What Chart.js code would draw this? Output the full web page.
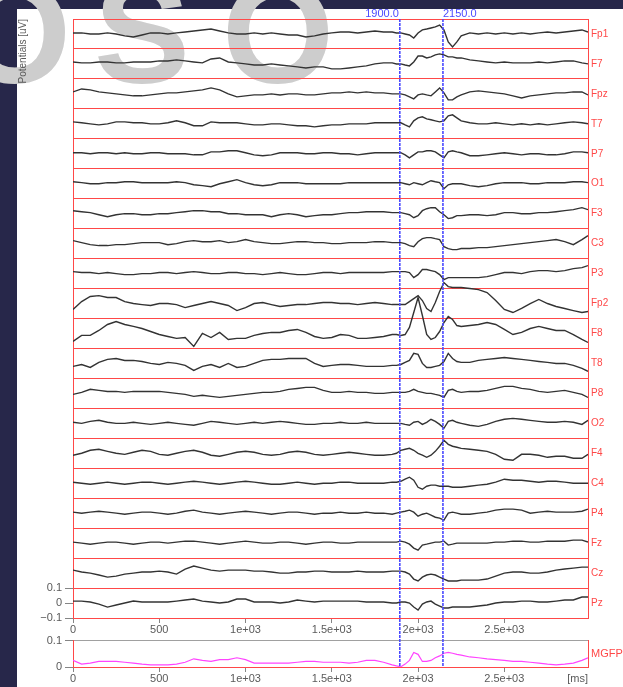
<!DOCTYPE html>
<html>
<head>
<meta charset="utf-8">
<title>EEG traces and MGFP</title>
<script src="https://cdn.jsdelivr.net/npm/chart.js@4.4.1/dist/chart.umd.min.js"></script>
<style>
  html, body { margin: 0; padding: 0; }
  body { width: 623px; height: 687px; position: relative; overflow: hidden; background: #27274a; }
  #sheet { position: absolute; left: 17px; top: 9px; width: 606px; height: 678px; background: #fff; }
  .logo { position: absolute; top: -38px; font: bold 144px 'Liberation Sans', Arial, sans-serif; line-height: 144px; color: #cdcdcd; white-space: nowrap; }
  canvas { position: absolute; left: 0; }
  #eeg { top: 0; }
  #gfp { top: 631px; }
</style>
</head>
<body>
<div id="sheet"></div>
<div class="logo" style="left:-41px">O</div>
<div class="logo" style="left:94px">S</div>
<div class="logo" style="left:222px">O</div>
<canvas id="eeg" width="623" height="634"></canvas>
<canvas id="gfp" width="623" height="56"></canvas>
<script>
// ---- data -------------------------------------------------------------
const channelNames = ['Fp1','F7','Fpz','T7','P7','O1','F3','C3','P3','Fp2',
                      'F8','T8','P8','O2','F4','C4','P4','Fz','Cz','Pz'];

// sample times [ms]
const times = [
  0,50,100,150,200,250,300,350,400,450,500,550,600,650,700,750,800,850,900,950,
  1000,1050,1100,1150,1200,1250,1300,1350,1400,1450,1500,1550,1600,1650,1700,1750,1800,1850,
  1875,1900,1925,1950,1975,2000,2025,2050,2075,2100,2125,2150,2175,2200,2225,2250,
  2300,2350,2400,2450,2500,2550,2600,2650,2700,2750,2800,2850,2900,2950,
  2985
];

// potentials per channel, in thousandths of the axis unit
const Fp1 = [7,7,0,0,7,0,-13,-20,-7,7,7,0,7,13,20,27,33,20,7,0,0,7,0,7,0,-7,-7,-20,-13,0,7,13,13,7,13,20,13,13,
  7,7,0,-7,-27,7,27,33,40,47,60,27,-53,-87,-53,-13,
  7,0,7,0,7,0,7,0,7,13,7,13,20,27, 13];
const F7 = [13,7,7,13,13,7,7,13,13,13,20,20,27,20,13,7,33,40,13,7,0,-7,-7,0,-7,-13,-20,-27,-20,-20,-33,-33,-27,-20,-13,0,7,7,
  0,0,-7,-13,13,53,53,40,47,60,67,60,47,47,40,40,
  27,20,13,7,13,7,7,7,13,7,13,20,20,7, 0];
const Fpz = [13,33,27,13,7,0,-7,-13,-13,-7,0,7,7,13,20,27,40,27,0,-20,-13,-7,-7,0,-7,0,0,-7,-7,0,7,7,13,7,13,7,7,0,
  0,0,-7,-20,-33,-7,0,-7,-13,13,40,7,-40,-40,-20,-7,
  13,20,13,7,0,-13,-27,-13,-7,0,7,7,13,13, -7];
const T7 = [13,7,0,-7,0,13,13,7,7,0,0,7,20,7,-13,-13,13,7,7,7,0,-7,-7,0,0,-7,-13,-13,-20,-13,-7,-7,0,0,0,7,7,7,
  7,7,-7,-20,20,40,47,33,27,20,13,20,53,60,40,20,
  7,0,0,7,0,-7,0,-7,0,-7,0,7,13,7, 0];
const P7 = [7,7,0,7,7,0,7,0,0,7,7,0,0,0,-7,-7,13,13,20,20,7,-7,-13,-7,7,7,7,0,0,7,7,0,0,-7,0,7,7,7,
  7,7,-7,-27,-7,13,13,20,20,13,-7,-27,13,20,13,7,
  -13,-13,-7,0,7,0,-7,0,0,-7,-7,0,13,13, 7];
const O1 = [13,7,0,0,7,7,13,13,7,7,7,7,13,7,-7,-13,-20,0,13,27,7,-7,-13,-7,7,7,7,0,0,0,0,0,7,7,7,7,7,7,
  7,7,0,-7,7,0,-7,7,20,13,7,-33,-7,0,0,0,
  -13,-20,-13,0,7,7,7,0,0,7,7,7,13,13, 7];
const F3 = [20,13,7,-7,-20,-7,0,0,-7,-7,0,0,7,13,20,20,13,13,0,0,-7,-7,-7,-20,-7,0,-7,-20,-13,-7,-7,0,7,7,13,13,13,7,
  7,7,0,-7,-27,-13,20,33,40,40,13,-7,-33,-27,-13,-13,
  -7,-7,-13,-7,7,7,0,0,7,7,13,20,27,40, 27];
const C3 = [20,7,-7,-13,-13,-7,-7,0,7,7,7,-7,0,13,20,13,13,20,7,13,27,13,7,0,0,7,13,13,7,7,0,0,7,7,7,13,13,7,
  7,7,0,-13,-20,13,33,40,40,33,27,-20,-33,-40,-40,-33,
  -33,-27,-27,-20,-13,-7,0,7,13,20,27,13,-7,27, 53];
const P3 = [13,7,7,0,7,0,-7,-7,0,0,7,7,0,7,13,7,0,0,7,7,0,0,-7,0,7,0,-7,-7,0,7,7,0,7,7,7,7,7,13,
  13,13,13,7,-27,-7,27,27,20,13,-7,-40,-27,-27,-27,-27,
  -27,-27,-20,-7,7,7,0,13,20,20,13,20,33,40, 53];
const Fp2 = [-40,13,47,53,40,40,13,0,-7,-13,0,0,-7,-27,-13,0,13,0,-13,-47,-27,0,7,-7,-20,-13,-7,-7,0,7,7,0,0,-7,0,7,0,-7,
  -7,-7,-7,13,33,53,20,-33,-53,7,80,140,113,107,107,107,
  100,93,73,20,-40,-60,-33,0,27,0,-20,-33,-47,-60, -53];
const F8 = [-53,-13,-13,20,60,80,60,47,33,13,-7,-20,-33,-27,-87,0,-27,7,-40,-33,-33,-13,0,7,7,20,27,7,-20,-33,-27,-7,-13,-33,-33,-27,-20,-7,
  -7,-13,-7,40,140,240,120,-7,-40,-27,13,73,113,93,53,47,
  53,60,73,60,27,-7,7,33,47,33,20,20,-7,-40, -60];
const T8 = [-20,-7,-27,7,27,33,20,20,13,0,-7,7,0,-13,-47,-20,-7,-27,0,-27,-20,0,20,27,27,33,33,33,0,-20,-13,-7,-7,-13,-20,-20,-20,-13,
  -13,-7,7,20,67,60,0,-27,-27,-20,-13,13,67,33,13,7,
  7,20,27,33,40,33,27,20,13,7,0,0,-13,-33, -53];
const P8 = [-7,7,27,20,13,13,7,13,13,13,13,7,0,-7,-20,-13,-20,-27,-20,-13,-7,0,7,7,13,27,33,40,40,20,7,7,13,7,7,0,0,7,
  7,7,7,13,27,13,7,0,0,-7,-13,-27,20,27,13,7,
  13,13,20,33,47,47,33,27,13,7,13,20,7,-7, -27];
const O2 = [7,0,13,20,7,0,0,7,0,-7,0,7,0,-7,-13,0,13,7,0,-7,0,7,0,7,13,7,0,-7,-7,0,0,7,0,0,7,0,0,0,
  0,0,-7,-13,7,13,-7,7,27,13,-7,-33,13,20,7,0,
  -13,-20,-7,13,27,33,27,20,13,7,7,13,7,-7, 20];
const F4 = [-13,0,20,27,13,0,-7,7,20,13,-7,-13,0,13,20,7,-13,-20,-7,7,13,7,-7,-13,-7,7,13,7,-7,-13,-7,0,7,0,-7,-13,-13,-7,
  0,20,27,33,20,0,-13,-27,-13,13,47,87,60,47,40,33,
  27,20,13,-7,-40,-47,-7,-7,-13,-27,-20,-20,-33,-33, -7];
const C4 = [7,0,-7,0,7,0,-7,0,7,7,0,-7,0,7,13,7,0,-7,0,7,13,7,0,-7,-7,0,7,0,-7,0,0,7,7,0,0,0,0,7,
  7,13,27,40,20,-27,-40,-20,-13,-13,-20,-20,-20,-27,-27,-27,
  -20,-13,-7,7,27,20,20,13,7,13,13,7,0,0, 0];
const P4 = [7,0,7,13,7,0,-7,0,7,7,0,-7,0,13,20,7,0,-7,0,7,13,7,0,-7,0,7,7,0,-7,0,0,7,0,0,7,0,0,-7,
  0,7,13,20,7,-20,-7,0,-13,-27,-33,-47,0,7,0,-7,
  -7,0,7,20,27,27,20,0,7,13,7,7,7,13, 27];
const Fz = [7,0,-7,0,7,7,0,-7,0,7,7,0,7,13,13,7,0,-7,0,7,13,7,0,0,7,7,0,-7,0,7,7,0,0,7,7,7,7,7,
  7,13,7,-7,-33,-47,-13,-7,0,7,7,13,-13,-7,0,0,
  0,0,0,7,7,13,13,7,7,13,13,13,20,20, 7];
const Cz = [20,7,0,-13,-27,-20,-7,0,7,7,13,7,-7,27,47,33,20,13,20,20,20,13,13,7,0,0,7,7,13,13,7,7,7,13,7,7,7,13,
  13,13,7,-7,-40,-53,-27,-13,-7,-13,-27,-40,-53,-53,-53,-47,
  -47,-47,-40,-20,0,7,7,0,0,7,20,27,33,40, 40];
const Pz = [13,13,7,-7,-27,-13,0,13,7,7,7,7,13,20,27,13,7,0,7,27,27,7,7,7,0,7,20,13,7,13,13,13,13,13,7,7,7,0,
  0,7,7,0,-27,-47,-7,7,13,-7,-20,-33,-33,-27,-27,-27,
  -27,-20,-13,0,7,7,13,13,7,7,13,20,20,40, 40];

// mean global field power, thousandths
const MGFP = [25,11,15,21,21,21,18,15,11,8,8,8,11,18,31,25,21,28,28,35,28,15,15,15,15,15,18,21,21,18,18,18,15,18,25,25,18,8,
  4,1,11,25,55,48,21,21,25,35,42,52,55,52,48,45,
  38,35,31,28,25,21,21,18,15,11,8,11,15,25, 35];

const traces = [Fp1,F7,Fpz,T7,P7,O1,F3,C3,P3,Fp2,F8,T8,P8,O2,F4,C4,P4,Fz,Cz,Pz];

const cursorTimes = [1900, 2150];
const msTicks = [0, 500, 1000, 1500, 2000, 2500];
const eegTicks = [-0.1, 0, 0.1];
const gfpTicks = [0, 0.1];
const MILLI = 0.001;

// ---- styling ----------------------------------------------------------
const RED = '#ff4848';
const BLUE = '#4a4aff';
const TXT = '#5a5a5a';
const TICK = '#858585';
const ROW = 0.2;                 // vertical spacing between channel baselines
const N = channelNames.length;
const T_END = times[times.length - 1];

Chart.defaults.font.family = "'Liberation Sans', Arial, sans-serif";
Chart.defaults.font.size = 11;
Chart.defaults.color = TXT;

const near = (a, b) => Math.abs(a - b) < 1e-9;
const fmtVal = v => (near(v, 0) ? '0' : (v < 0 ? '\u22120' : '0') + '.' + Math.round(Math.abs(v) * 10));
const fmtMs = v => (v >= 1000 ? (v / 1000) + 'e+03' : String(v));

// vertical cursor lines with their time stamps
const cursorPlugin = {
  id: 'cursors',
  afterDatasetsDraw(chart, args, opts) {
    const { ctx, chartArea, scales } = chart;
    const y0 = opts.fromCanvasTop ? 0 : chartArea.top;
    const y1 = opts.endY != null ? opts.endY : chartArea.bottom;
    ctx.save();
    ctx.lineWidth = 1.6;
    cursorTimes.forEach((t, i) => {
      const px = scales.x.getPixelForValue(t) - 1;
      ctx.strokeStyle = BLUE;
      ctx.setLineDash([3, 1]);
      ctx.beginPath();
      ctx.moveTo(px, y0);
      ctx.lineTo(px, y1);
      ctx.stroke();
      if (opts.labels) {
        ctx.fillStyle = BLUE;
        ctx.font = "11px 'Liberation Sans', Arial, sans-serif";
        ctx.textBaseline = 'middle';
        ctx.textAlign = i === 0 ? 'right' : 'left';
        ctx.fillText(t.toFixed(1), i === 0 ? px - 1 : px, chartArea.top - 5);
      }
    });
    ctx.restore();
  }
};

const xAxis = (height, title) => ({
  type: 'linear', min: 0, max: T_END,
  afterBuildTicks: s => { s.ticks = msTicks.map(v => ({ value: v })); },
  afterFit: s => { s.height = height; },
  grid: { drawOnChartArea: false, drawTicks: true, tickLength: 5, tickColor: TICK },
  border: { display: true, color: RED, width: 1 },
  ticks: { callback: fmtMs, color: TXT, padding: 0, maxRotation: 0, minRotation: 0, autoSkip: false },
  title: title ? { display: true, text: title, align: 'end', color: TXT, font: { size: 11 }, padding: { top: 0, bottom: 1 } } : { display: false }
});

// ---- channel traces ---------------------------------------------------
const eegDatasets = traces.map((vals, i) => ({
  label: channelNames[i],
  data: times.map((t, k) => ({ x: t, y: (N - 1 - i) * ROW + vals[k] * MILLI })),
  borderColor: '#333333',
  borderWidth: 1.4,
  pointRadius: 0,
  tension: 0,
  xAxisID: 'x',
  yAxisID: 'y'
}));

const rowEdges = [];
for (let k = 0; k <= N; k++) rowEdges.push(-ROW / 2 + k * ROW);
const yMin = rowEdges[0], yMax = rowEdges[N];

new Chart(document.getElementById('eeg'), {
  type: 'line',
  data: { datasets: eegDatasets },
  options: {
    responsive: false, animation: false, events: [],
    layout: { padding: { top: 19, left: 0, right: 0, bottom: 0 } },
    plugins: {
      legend: { display: false }, tooltip: { enabled: false },
      cursors: { labels: true, endY: 631 }
    },
    scales: {
      x: xAxis(16, null),
      y: {
        type: 'linear', position: 'left', min: yMin, max: yMax,
        afterBuildTicks: s => {
          const vals = rowEdges.concat([0]).sort((a, b) => a - b);
          s.ticks = vals.map(v => ({ value: v }));
        },
        afterFit: s => { s.width = 73; },
        grid: {
          color: c => (c.tick && near(c.tick.value, 0) ? 'rgba(0,0,0,0)' : RED),
          tickColor: c => (c.tick && eegTicks.some(e => near(e, c.tick.value)) ? TICK : 'rgba(0,0,0,0)'),
          tickLength: 8, lineWidth: 1
        },
        border: { display: true, color: RED, width: 1 },
        ticks: {
          autoSkip: false, padding: 3, color: TXT,
          callback: v => (eegTicks.some(e => near(e, v)) ? fmtVal(v) : '')
        },
        title: { display: true, text: 'Potentials [uV]', align: 'end', color: TXT, font: { size: 10 }, padding: { top: 17, bottom: 0 } }
      },
      yr: {
        type: 'linear', position: 'right', min: yMin, max: yMax,
        afterBuildTicks: s => { s.ticks = channelNames.map((c, i) => ({ value: (N - 1 - i) * ROW })); },
        afterFit: s => { s.width = 35; },
        grid: { drawOnChartArea: false, drawTicks: false },
        border: { display: true, color: RED, width: 1 },
        ticks: {
          autoSkip: false, padding: 3, color: RED, font: { size: 10 },
          callback: v => channelNames[N - 1 - Math.round(v / ROW)]
        }
      }
    }
  },
  plugins: [cursorPlugin]
});

// ---- mean global field power -----------------------------------------
new Chart(document.getElementById('gfp'), {
  type: 'line',
  data: {
    datasets: [{
      label: 'MGFP',
      data: times.map((t, k) => ({ x: t, y: MGFP[k] * MILLI })),
      borderColor: '#ff44ff',
      borderWidth: 1.2,
      pointRadius: 0,
      tension: 0,
      xAxisID: 'x',
      yAxisID: 'y'
    }]
  },
  options: {
    responsive: false, animation: false, events: [],
    layout: { padding: { top: 7, left: 0, right: 0, bottom: 0 } },
    plugins: {
      legend: { display: false }, tooltip: { enabled: false },
      cursors: { labels: false, fromCanvasTop: true }
    },
    scales: {
      x: xAxis(20, '[ms]'),
      y: {
        type: 'linear', position: 'left', min: gfpTicks[0], max: gfpTicks[gfpTicks.length - 1],
        afterBuildTicks: s => { s.ticks = gfpTicks.map(v => ({ value: v })); },
        afterFit: s => { s.width = 73; },
        grid: {
          color: c => (c.tick && near(c.tick.value, 0) ? RED : '#a0a0a0'),
          tickColor: TICK, tickLength: 8
        },
        border: { display: true, color: RED, width: 1 },
        ticks: { autoSkip: false, padding: 3, color: TXT, callback: v => fmtVal(v) }
      },
      yr: {
        type: 'linear', position: 'right', min: gfpTicks[0], max: gfpTicks[gfpTicks.length - 1],
        afterBuildTicks: s => { s.ticks = [{ value: (gfpTicks[0] + gfpTicks[1]) / 2 }]; },
        afterFit: s => { s.width = 35; },
        grid: { drawOnChartArea: false, drawTicks: false },
        border: { display: true, color: RED, width: 1 },
        ticks: { autoSkip: false, padding: 3, color: RED, font: { size: 11 }, callback: () => 'MGFP' }
      }
    }
  },
  plugins: [cursorPlugin]
});
</script>
</body>
</html>
